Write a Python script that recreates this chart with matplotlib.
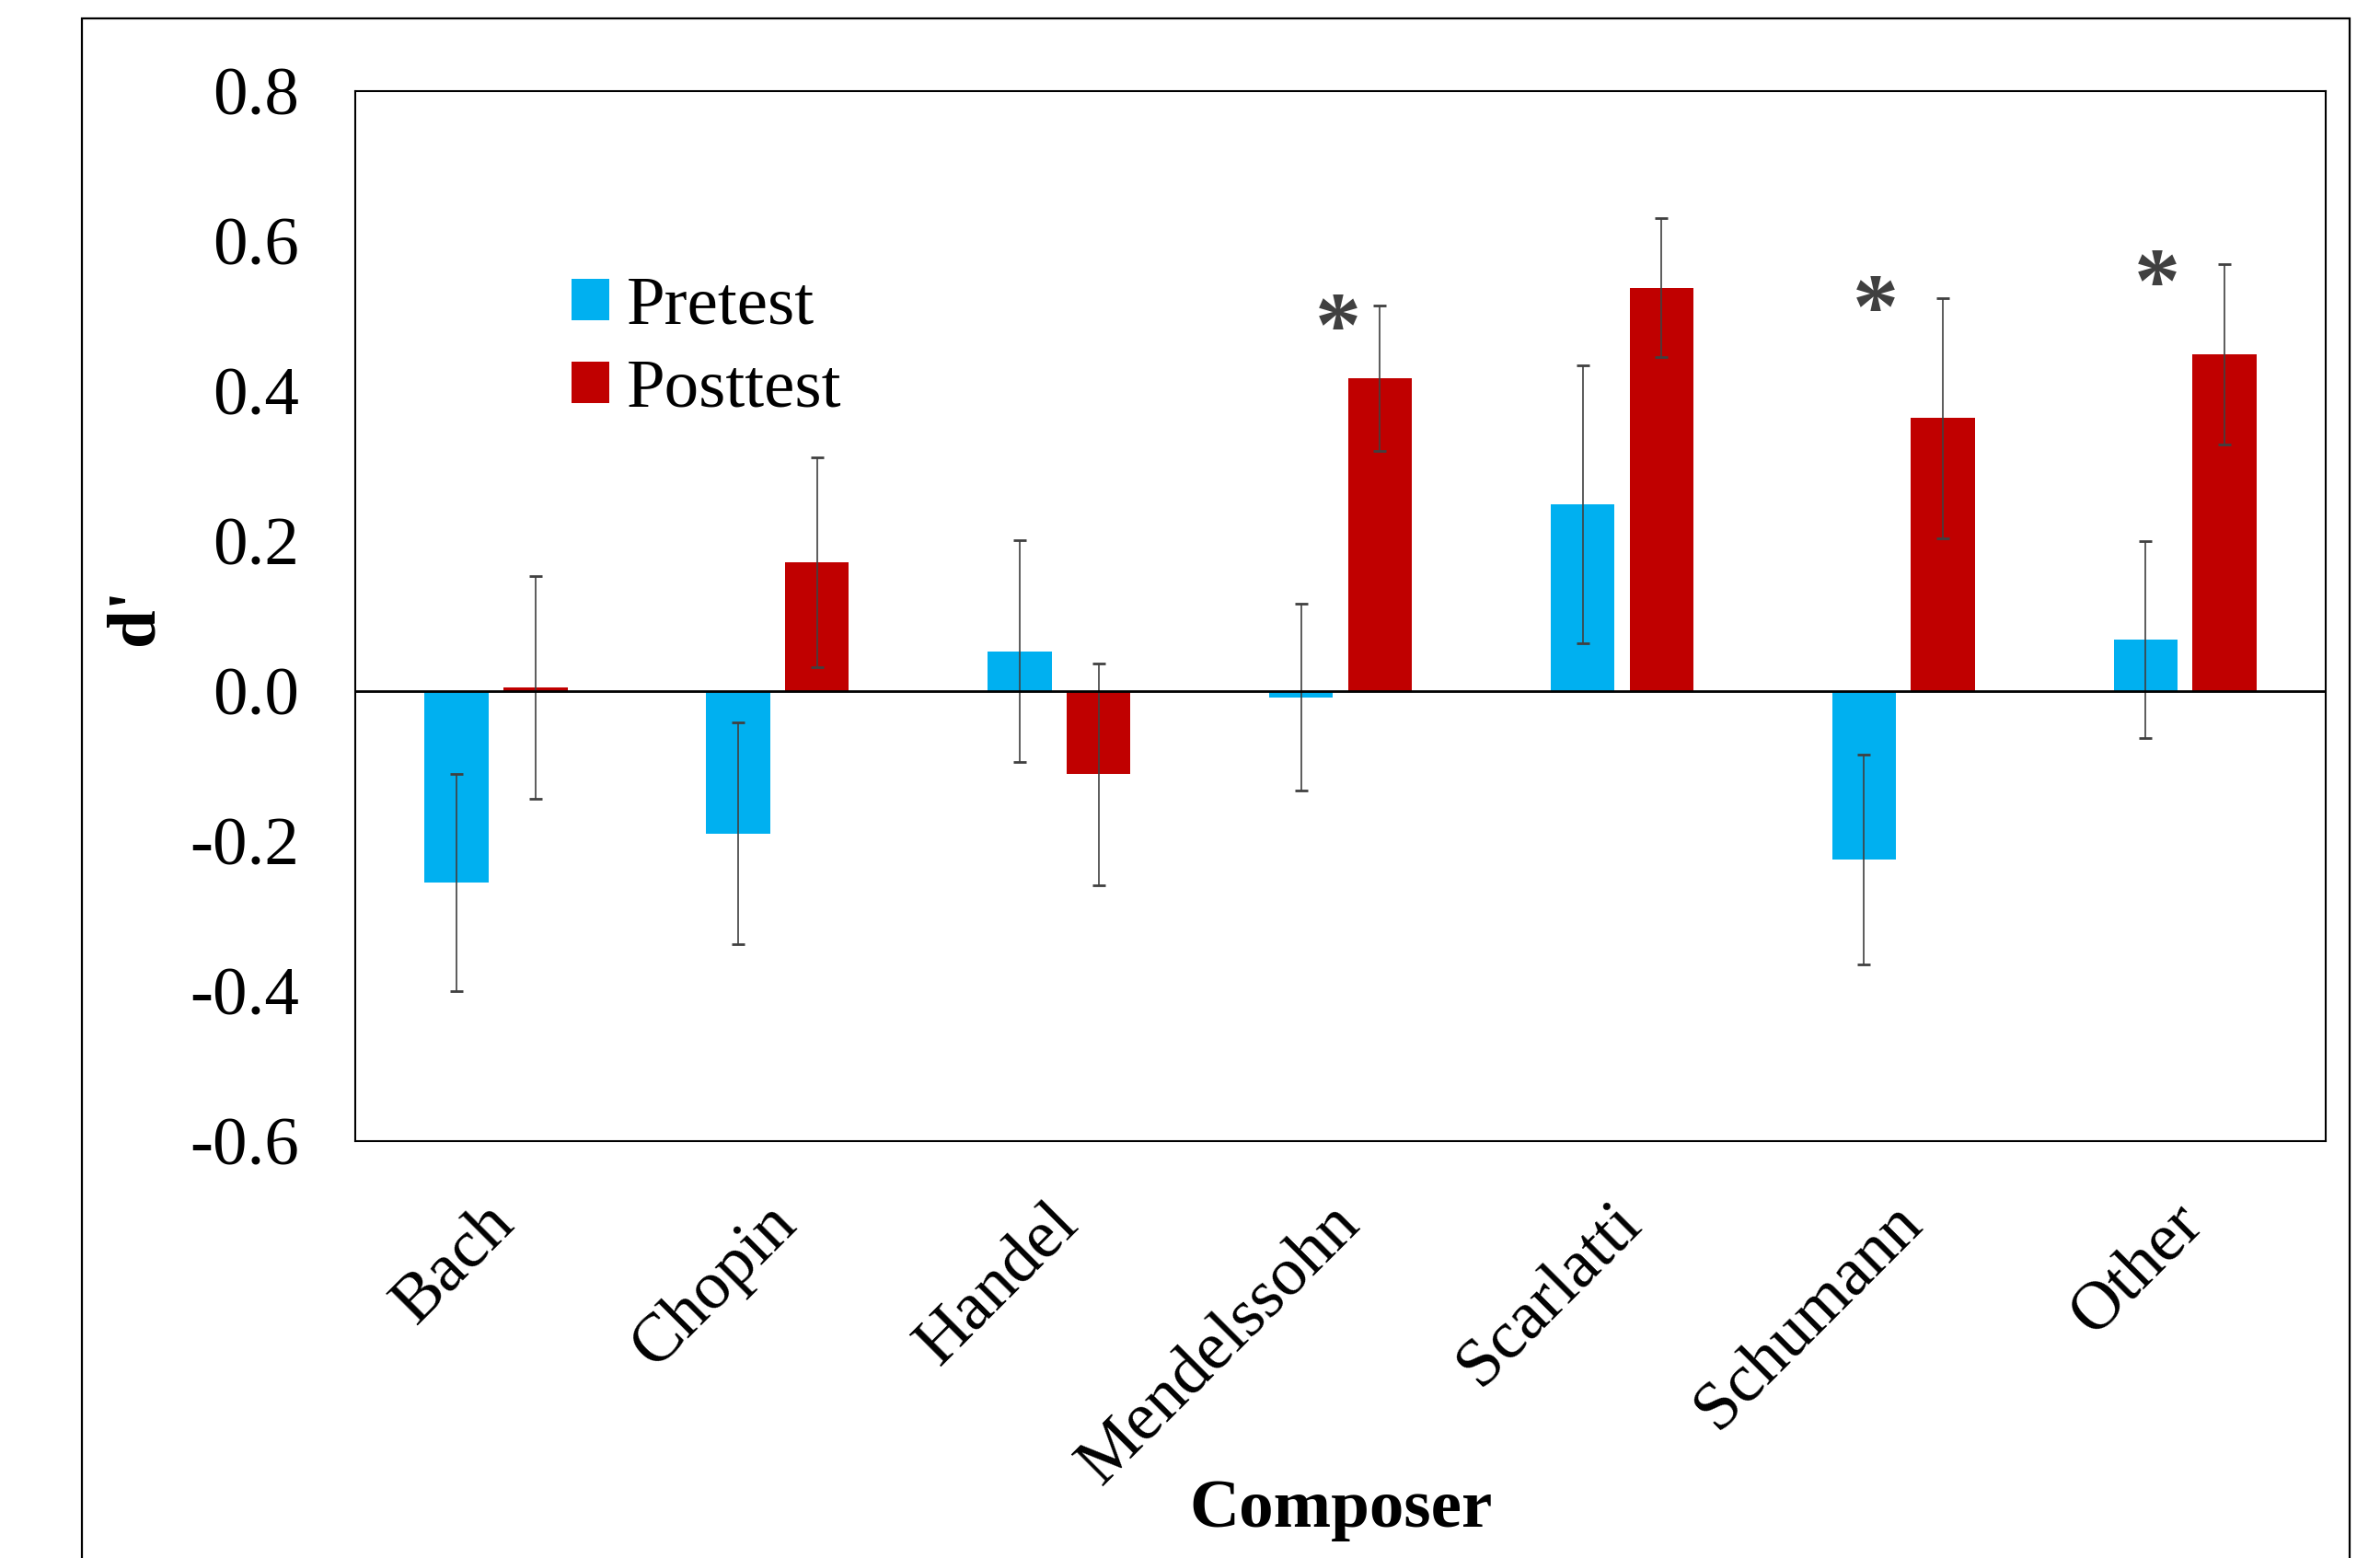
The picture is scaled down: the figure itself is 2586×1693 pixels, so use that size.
import matplotlib
matplotlib.use("Agg")
import matplotlib.pyplot as plt
import matplotlib.transforms as mtransforms
import numpy as np
from matplotlib.patches import Patch, Rectangle

plt.rcParams['font.family'] = ['Liberation Serif', 'DejaVu Serif']

composers = ["Bach", "Chopin", "Handel", "Mendelssohn", "Scarlatti", "Schumann", "Other"]
pretest = [-0.255, -0.19, 0.053, -0.008, 0.249, -0.225, 0.069]
pretest_err = [0.145, 0.148, 0.148, 0.125, 0.185, 0.14, 0.131]
posttest = [0.005, 0.172, -0.111, 0.417, 0.538, 0.364, 0.449]
posttest_err = [0.148, 0.14, 0.148, 0.097, 0.093, 0.16, 0.12]

# significance markers: (category index, x offset, y)
stars = [(3, -0.01, 0.478), (5, -0.10, 0.503), (6, -0.10, 0.538)]

yticks = [-0.6, -0.4, -0.2, 0.0, 0.2, 0.4, 0.6, 0.8]

FS = 54
CYAN = "#00B0F0"
RED = "#C00000"


def main():
    fig = plt.figure(figsize=(25.86, 16.93), dpi=100)
    # outer frame
    fig.patches.append(Rectangle((0.0344, -0.02), 0.9528, 1.0082, transform=fig.transFigure,
                                 fill=False, edgecolor="black", linewidth=1.6))
    ax = fig.add_axes([0.1493, 0.2676, 0.8279, 0.6739])

    x = np.arange(len(composers))
    w = 0.227
    off = 0.14
    ekw = dict(ecolor="#404040", elinewidth=1.2, capthick=2, capsize=5)
    ax.bar(x - off, pretest, w, color=CYAN, yerr=pretest_err, error_kw=ekw, zorder=2)
    ax.bar(x + off, posttest, w, color=RED, yerr=posttest_err, error_kw=ekw, zorder=2)
    ax.axhline(0, color="black", linewidth=2, zorder=3)

    for i, dx, yv in stars:
        ax.text(x[i] + dx, yv, "*", ha="center", va="center", fontsize=72,
                fontweight="bold", color="#404040")

    ax.set_xlim(-0.5, len(composers) - 0.5)
    ax.set_ylim(-0.6, 0.8)
    ax.set_yticks(yticks)
    ax.set_yticklabels([f"{v:.1f}" for v in yticks], fontsize=FS)
    ax.set_xticks(x)
    ax.set_xticklabels(composers, fontsize=FS, rotation=45, ha="right", rotation_mode="anchor")
    ax.tick_params(axis="y", length=0, pad=44)
    ax.tick_params(axis="x", length=0, pad=38)
    shift = mtransforms.ScaledTranslation(-10 / 72, -2 / 72, fig.dpi_scale_trans)
    for lbl in ax.get_xticklabels():
        lbl.set_transform(lbl.get_transform() + shift)
    for s in ax.spines.values():
        s.set_linewidth(1.5)

    ax.set_xlabel("Composer", fontsize=FS, fontweight="bold", labelpad=-14)
    ax.set_ylabel("d'", fontsize=FS, fontweight="bold", labelpad=18)

    handles = [Patch(facecolor=CYAN), Patch(facecolor=RED)]
    ax.legend(handles, ["Pretest", "Posttest"], loc="upper left", bbox_to_anchor=(0.0955, 0.85),
              frameon=False, fontsize=FS, handlelength=0.55, handleheight=0.55,
              handletextpad=0.25, labelspacing=0.3, borderaxespad=0)

    fig.savefig("out.png", dpi=100)


if __name__ == "__main__":
    main()
